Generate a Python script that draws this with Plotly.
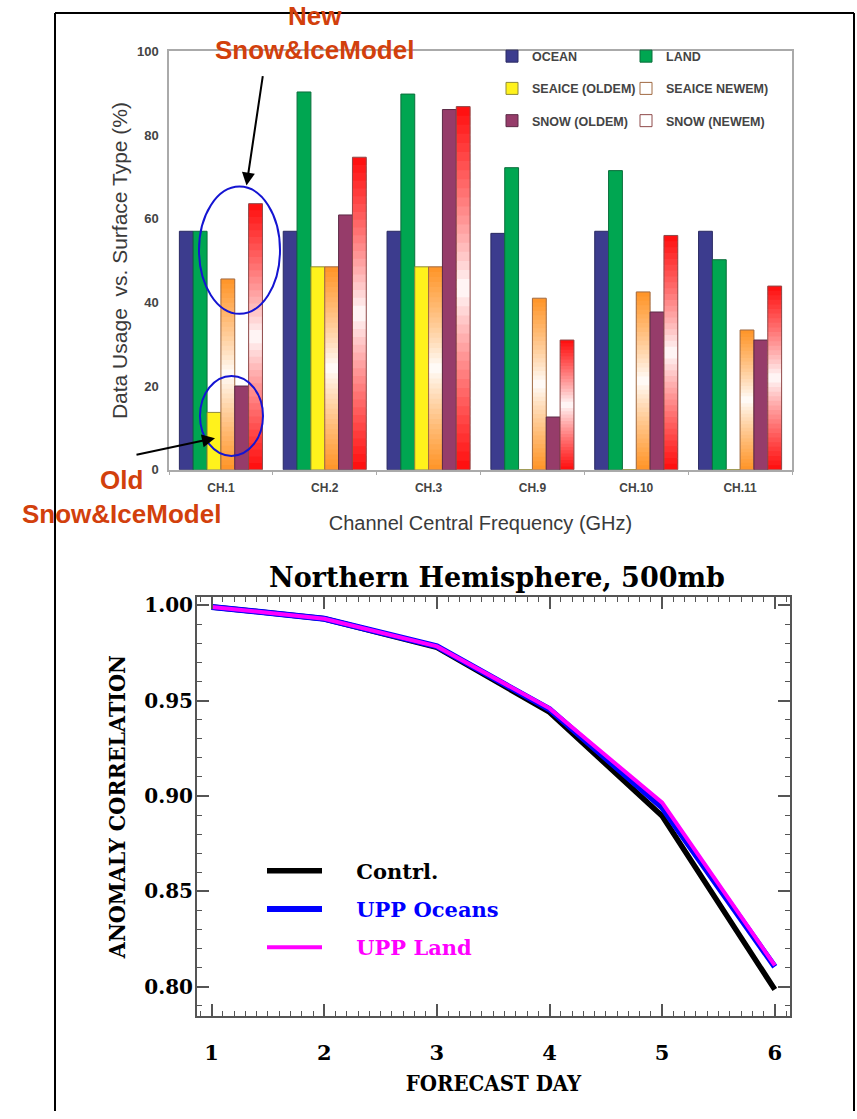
import plotly.graph_objects as go

W, H = 857, 1119

# ---------------- data: top chart ----------------
channels = ["CH.1", "CH.2", "CH.3", "CH.9", "CH.10", "CH.11"]
ocean = [57, 57, 57, 56.5, 57, 57]
land = [57, 90.3, 89.8, 72.2, 71.5, 50.2]
seaice_old = [13.7, 48.5, 48.5, 0, 0, 0]
seaice_new = [45.6, 48.5, 48.5, 41, 42.5, 33.4]
snow_old = [20, 60.9, 86.1, 12.6, 37.7, 31]
snow_new = [63.6, 74.7, 86.8, 31, 56, 43.9]

# ---------------- data: bottom chart ----------------
days = [1, 2, 3, 4, 5, 6]
contrl = [0.9992, 0.993, 0.978, 0.9440, 0.8895, 0.7985]
upp_oceans = [0.9992, 0.993, 0.9785, 0.9455, 0.8940, 0.8105]
upp_land = [0.9992, 0.993, 0.9785, 0.9460, 0.8965, 0.8112]


def px(x):
    return x / W


def py(y):
    return 1 - y / H


fig = go.Figure()

BAR_LINE = 1


def solid_bar(vals, name, color, lcolor, grp, legend):
    fig.add_trace(go.Bar(
        x=channels, y=vals, name=name, marker=dict(color=color, line=dict(color=lcolor, width=BAR_LINE)),
        offsetgroup=grp, alignmentgroup="a", legend=legend, legendgroup=name,
        xaxis="x", yaxis="y", hoverinfo="skip"))


def gradient_bar(vals, name, end_rgb, lcolor, grp, legend, white_at=0.5, n=40):
    for k in range(n):
        f = (k + 0.5) / n
        if f >= white_at:
            t = (f - white_at) / (1 - white_at)
        else:
            t = (white_at - f) / white_at
        t = t ** 0.85
        r = round(255 + (end_rgb[0] - 255) * t)
        g = round(255 + (end_rgb[1] - 255) * t)
        b = round(255 + (end_rgb[2] - 255) * t)
        base = [v * k / n for v in vals]
        top = [v * min(k + 1.8, n) / n for v in vals]
        fig.add_trace(go.Bar(
            x=channels, y=[tp - bs for tp, bs in zip(top, base)], base=base,
            marker=dict(color=f"rgb({r},{g},{b})", line=dict(width=0)),
            offsetgroup=grp, alignmentgroup="a", showlegend=False,
            xaxis="x", yaxis="y", hoverinfo="skip"))
    fig.add_trace(go.Bar(
        x=channels, y=vals, name=name,
        marker=dict(color="rgba(255,255,255,0)", line=dict(color=lcolor, width=BAR_LINE)),
        offsetgroup=grp, alignmentgroup="a", legend=legend, legendgroup=name,
        xaxis="x", yaxis="y", hoverinfo="skip"))


solid_bar(ocean, "OCEAN", "#3C3C8E", "#2a2a62", "g1", "legend")
solid_bar(land, "LAND", "#00A651", "#0b6e3c", "g2", "legend2")
solid_bar(seaice_old, "SEAICE (OLDEM)", "#FFF21C", "#8f8a3a", "g3", "legend")
gradient_bar(seaice_new, "SEAICE NEWEM)", (255, 148, 38), "#a06a42", "g4", "legend2")
solid_bar(snow_old, "SNOW (OLDEM)", "#963C6A", "#5c2a46", "g5", "legend")
gradient_bar(snow_new, "SNOW (NEWEM)", (255, 12, 12), "#8e4a4a", "g6", "legend2")

# ---------------- bottom line chart ----------------
pad = "\u00a0\u00a0\u00a0\u00a0"
line_specs = [
    (contrl, pad + "Contrl.", "black", 5.5),
    (upp_oceans, pad + "<span style='color:#0000FF'>UPP Oceans</span>", "#0000FF", 6),
    (upp_land, pad + "<span style='color:#FF00FF'>UPP Land</span>", "#FF00FF", 4),
]
for vals, name, color, width in line_specs:
    fig.add_trace(go.Scatter(
        x=days, y=vals, mode="lines", name=name,
        line=dict(color=color, width=width),
        xaxis="x2", yaxis="y2", legend="legend3", legendgroup=name, hoverinfo="skip"))

gray_txt = "#444444"
sans = "Liberation Sans, Arial, sans-serif"
serif = "DejaVu Serif, serif"
serif_c = "DejaVu Serif Condensed, DejaVu Serif, serif"

fig.update_layout(
    width=W, height=H,
    margin=dict(l=0, r=0, t=0, b=0),
    paper_bgcolor="white", plot_bgcolor="white",
    barmode="group", bargap=0.2, bargroupgap=0,
    showlegend=True,
    xaxis=dict(
        domain=[px(169), px(792)], type="category", anchor="y",
        showline=True, linecolor="#aaaaaa", linewidth=1.5, mirror=True,
        ticks="outside", tickson="boundaries", ticklen=4, tickcolor="#aaaaaa",
        tickfont=dict(family=sans, size=12, color=gray_txt, weight="bold"),
        ticklabelstandoff=6, showgrid=False, automargin=True,
        title=dict(text="Channel Central Frequency (GHz)", standoff=22,
                   font=dict(family=sans, size=20, color="#3a3a3a")),
    ),
    yaxis=dict(
        domain=[py(469), py(45)], anchor="x", range=[0, 100], dtick=20,
        showline=True, linecolor="#aaaaaa", linewidth=1.5, mirror=True,
        ticks="", showgrid=False, zeroline=False, automargin=True,
        tickfont=dict(family=sans, size=13, color=gray_txt, weight="bold"),
        ticklabelstandoff=6,
        title=dict(text="Data Usage\u00a0 vs. Surface Type (%)", standoff=4,
                   font=dict(family=sans, size=21, color="#3a3a3a")),
    ),
    xaxis2=dict(
        domain=[px(197), px(790)], anchor="y2", range=[0.87, 6.135],
        tick0=1, dtick=1, ticks="inside", ticklen=12, tickwidth=1.5, tickcolor="#555555",
        minor=dict(dtick=0.1, tick0=1, ticks="inside", ticklen=5, tickwidth=1, tickcolor="#555555", showgrid=False),
        showline=True, linecolor="#555555", linewidth=2, mirror="ticks",
        showgrid=False, zeroline=False, automargin=True,
        tickfont=dict(family=serif, size=21, color="black", weight="bold"),
        ticklabelstandoff=17,
        title=dict(text="FORECAST DAY", standoff=11,
                   font=dict(family=serif_c, size=22, color="black", weight="bold")),
    ),
    yaxis2=dict(
        domain=[py(1023), py(598)], anchor="x2", range=[0.7845, 1.0044],
        tick0=0.8, dtick=0.05, tickformat=".2f",
        ticks="inside", ticklen=12, tickwidth=1.5, tickcolor="#555555",
        minor=dict(dtick=0.01, tick0=0.8, ticks="inside", ticklen=5, tickwidth=1, tickcolor="#555555", showgrid=False),
        showline=True, linecolor="#555555", linewidth=2, mirror="ticks",
        showgrid=False, zeroline=False, automargin=True,
        tickfont=dict(family=serif, size=20, color="black", weight="bold"),
        ticklabelstandoff=-2,
        title=dict(text="ANOMALY CORRELATION", standoff=12,
                   font=dict(family=serif_c, size=23, color="black", weight="bold")),
    ),
    title=dict(text="Northern Hemisphere, 500mb", xref="paper", yref="paper",
               x=px(497), y=py(578), xanchor="center", yanchor="middle",
               font=dict(family=serif, size=27, color="black", weight="bold")),
    legend=dict(x=px(492), y=py(35), xanchor="left", yanchor="top",
                bgcolor="rgba(0,0,0,0)", traceorder="grouped", tracegroupgap=13,
                font=dict(family=sans, size=12.5, color=gray_txt, weight="bold")),
    legend2=dict(x=px(626), y=py(35), xanchor="left", yanchor="top",
                 bgcolor="rgba(0,0,0,0)", traceorder="grouped", tracegroupgap=13,
                 font=dict(family=sans, size=12.5, color=gray_txt, weight="bold")),
    legend3=dict(x=px(262), y=py(855), xanchor="left", yanchor="top", itemwidth=55,
                 bgcolor="rgba(0,0,0,0)", traceorder="grouped", tracegroupgap=8,
                 font=dict(family=serif, size=21, color="black", weight="bold")),
)

orange_red = "#D2400C"
fig.add_annotation(text="New<br>Snow&amp;IceModel", xref="paper", yref="paper",
                   x=px(314), y=py(26), xanchor="center", yanchor="middle", showarrow=False,
                   font=dict(family=sans, size=26, color=orange_red, weight="bold"))
fig.add_annotation(text="Old<br>Snow&amp;IceModel", xref="paper", yref="paper",
                   x=px(121), y=py(497), xanchor="center", yanchor="middle", showarrow=False,
                   font=dict(family=sans, size=26, color=orange_red, weight="bold"))
# arrows
fig.add_annotation(text="", xref="paper", yref="paper", x=px(246.5), y=py(181),
                   ax=16.5, ay=-111, showarrow=True, arrowhead=2, arrowsize=1.3,
                   arrowwidth=2, arrowcolor="black", standoff=0)
fig.add_annotation(text="", xref="paper", yref="paper", x=px(215), y=py(437),
                   ax=-80, ay=17, showarrow=True, arrowhead=2, arrowsize=1.3,
                   arrowwidth=2, arrowcolor="black", standoff=0)

# blue ellipses
fig.add_shape(type="circle", xref="paper", yref="paper",
              x0=px(199), x1=px(280), y0=py(311), y1=py(182),
              line=dict(color="#1414D2", width=2))
fig.add_shape(type="circle", xref="paper", yref="paper",
              x0=px(200), x1=px(263), y0=py(455), y1=py(374),
              line=dict(color="#1414D2", width=2))

# outer black frame
fig.add_shape(type="line", xref="paper", yref="paper", x0=px(55), x1=px(55), y0=0, y1=py(6),
              line=dict(color="black", width=2))
fig.add_shape(type="line", xref="paper", yref="paper", x0=px(55), x1=px(854), y0=py(6), y1=py(6),
              line=dict(color="black", width=2))
fig.add_shape(type="line", xref="paper", yref="paper", x0=px(854), x1=px(854), y0=0, y1=py(6),
              line=dict(color="black", width=2))

fig.write_html("out.html", config={"displayModeBar": False},
               post_script="document.body.style.margin='0px';")
